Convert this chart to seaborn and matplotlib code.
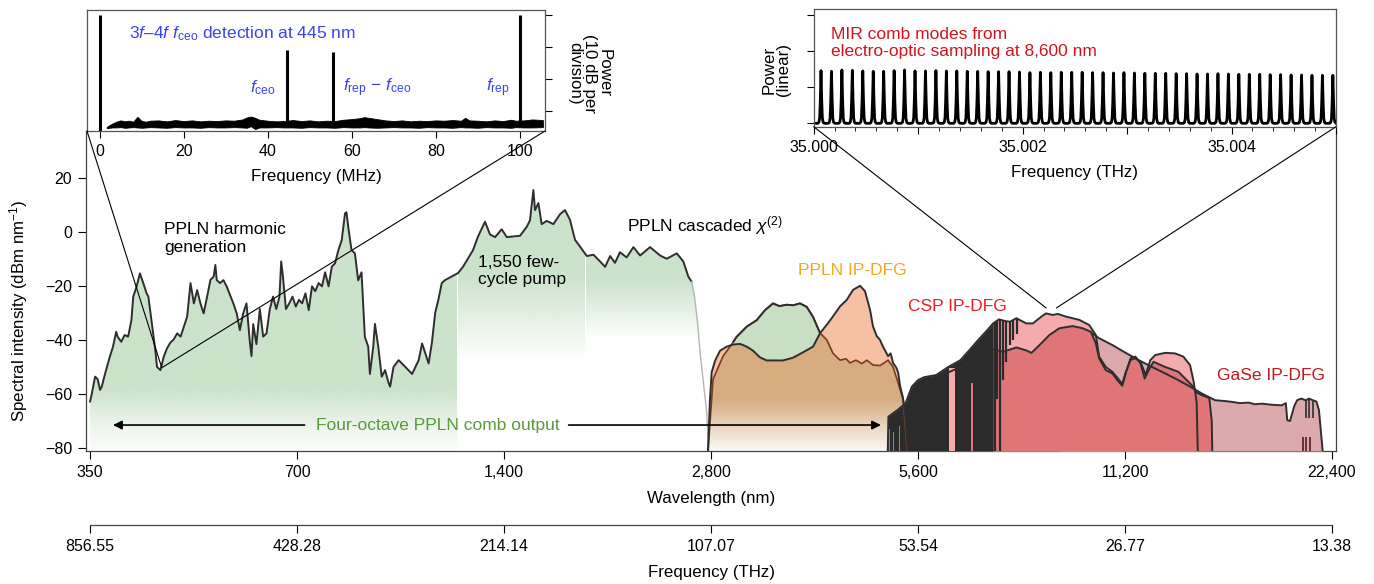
import numpy as np
import matplotlib
matplotlib.use("Agg")
import matplotlib.pyplot as plt
import seaborn as sns
from matplotlib.colors import to_rgb
from matplotlib.patches import ConnectionPatch
from matplotlib.ticker import FixedLocator, NullLocator

sns.set_theme(style="ticks", rc={"text.color": "black", "axes.labelcolor": "black",
                                 "xtick.color": "black", "ytick.color": "black"})
plt.rcParams['font.family'] = ['Liberation Sans', 'DejaVu Sans']
plt.rcParams['mathtext.fontset'] = 'custom'
plt.rcParams['mathtext.rm'] = 'Liberation Sans'
plt.rcParams['mathtext.it'] = 'Liberation Sans:italic'
plt.rcParams['mathtext.bf'] = 'Liberation Sans:bold'

# ---------------- data ----------------
# PPLN harmonic generation + cascaded chi(2) spectrum (nm, dBm/nm)
green_wl = [350, 352, 356, 359, 362, 364, 368, 374, 378, 382, 384, 388.5, 393, 397.6, 402, 404.5,
            409, 413.6, 418.3, 423, 425.5, 430.6, 435.6, 438, 443, 448, 453, 458, 463, 468.6, 474,
            479, 484.5, 490, 495.5, 501, 506.5, 512, 518, 523.8, 529.5, 532.5, 535, 541, 547, 553,
            565.5, 572, 578, 584.5, 591, 597.8, 601, 604.5, 611, 618, 625, 632, 639, 646, 653, 660,
            663.8, 667, 674.5, 682, 689.5, 697, 704.6, 712, 720, 728, 736, 744, 752.5, 761, 769,
            778, 786.5, 795, 804, 813, 822, 826, 831, 840, 849.7, 859, 868.7, 878.5, 888.4, 893.5,
            903.5, 908.6, 918.8, 929.5, 940, 950.7, 956, 967, 983.7, 1006, 1029, 1052, 1064,
            1075.6, 1087.5, 1099.6, 1111.8, 1124, 1136.5, 1149, 1174, 1200, 1220, 1262, 1283,
            1313.6, 1335.7, 1358.6, 1389, 1413, 1477, 1510.6, 1527, 1544.6, 1553, 1570.6, 1588,
            1615, 1651.6, 1689, 1717, 1746, 1775.6, 1805.6, 1847, 1888.6, 1931, 1964, 1997, 2030,
            2064, 2111, 2159, 2208, 2283, 2361, 2414, 2496, 2552, 2595, 2624]
green_db = [-62.9, -60, -53.6, -54.5, -58.5, -57.3, -52.6, -46.2, -42.5, -37, -38.9, -40.7, -38.2,
            -38.8, -32.7, -24, -20.3, -15.4, -19, -22.8, -24, -34, -44, -50, -51.2, -46.2, -43.1,
            -41, -39.9, -37.6, -38.8, -35.2, -31.4, -19, -26.5, -21.6, -26.5, -30.2, -24, -17.8,
            -16.6, -12.3, -17.9, -19, -17.9, -20.2, -26.5, -30.2, -36.4, -30.2, -26.5, -41, -46,
            -34.2, -41.6, -28.6, -38.8, -37.6, -28.6, -24, -28.6, -24, -11, -15.4, -28.6, -26.5,
            -24, -27.7, -25.2, -26.5, -22.8, -29, -20.2, -22, -19, -20.2, -15, -20.2, -12.9, -11.7,
            -6.8, -3.1, 6.8, 7.2, 1.8, -6.8, -8, -18, -15, -38.9, -42.5, -52.6, -42.5, -34.1, -42.5,
            -53.6, -51.2, -55.8, -57.3, -50, -47.5, -50, -52.6, -47.5, -41.3, -45, -48.7, -41, -30,
            -25, -19, -17.9, -16.6, -15.3, -13, -6.8, -1.8, 3.7, -1, -2, 0.9, -2, -1.5, 1.8, 4.2,
            15.4, 8, 10.6, 2.8, 4, 2.8, 6.5, 8, 4.4, -3, -5.5, -9, -8.5, -11, -13, -9, -11.5, -7.6,
            -9.5, -5.7, -8.8, -5.7, -8.8, -10, -8, -11, -16.6, -18.5]
# faded falling edge of the pump spectrum
tail_wl = [2624, 2650, 2675, 2700, 2730, 2760, 2777]
tail_db = [-18.5, -24, -33, -45, -56, -67, -81.1]

# PPLN IP-DFG spectra
dfg_orange_wl = [2772, 2790, 2806, 2838, 2886, 2951, 3017, 3086, 3156, 3223, 3299, 3374, 3446, 3563,
                 3685, 3811, 3940, 4034, 4126, 4213, 4313, 4411, 4505, 4612, 4689, 4768, 4816, 4876,
                 4930, 4980, 5065, 5110, 5151, 5200, 5239, 5273, 5320, 5360, 5416]
dfg_orange_db = [-81, -62, -52, -47.7, -44, -42.5, -41.7, -41.5, -42.5, -44, -46.5, -47.6, -47.6,
                 -47.6, -46.6, -44.6, -42.5, -37.5, -34.4, -31.3, -27.6, -25.2, -21.5, -20, -22,
                 -28.8, -35, -38.6, -40, -42.5, -46, -45, -48.6, -50, -52, -57, -61, -66, -81]
dfg_green_wl = [2772, 2819, 2915, 2984, 3052, 3156, 3263, 3355, 3446, 3520, 3608, 3685, 3772, 3858,
                3940, 4034, 4126, 4213, 4313, 4400, 4460, 4550, 4640, 4716, 4816, 4930, 5000, 5065,
                5150, 5255, 5326, 5400]
dfg_green_db = [-81, -54.6, -46, -42.5, -38.8, -35.1, -32.7, -29, -26.5, -27.5, -27.0, -27.2, -26.5,
                -27.8, -31.5, -37.5, -40, -45, -47.5, -47.0, -48.5, -47.5, -48.8, -47.5, -49.3,
                -49.5, -48.5, -47.5, -50, -57, -62, -81]

# CSP IP-DFG spectra (upper / lower) and GaSe IP-DFG
csp_up_wl = [5060, 5071, 5225, 5372, 5485, 5598, 5715, 5952, 6198, 6454, 6650, 6852, 7062, 7202,
             7345, 7480, 7619, 7785, 7920, 8047, 8228, 8463, 8600, 8793, 8942, 9192, 9610, 9933,
             10157, 10270, 10500, 10735, 10916, 11097, 11225, 11410, 11596, 11795, 12000, 12190,
             12394, 12810, 13245, 13617, 13923, 14080, 14160, 14235, 14290]
csp_up_db = [-81, -68.4, -66, -63.4, -57.3, -54.9, -53.8, -53, -50, -47.5, -43.8, -40, -36.4, -33.9,
             -32.4, -33, -33.3, -32, -33, -33.9, -33.9, -31.4, -30.2, -30.8, -30.4, -31.4, -32.6,
             -34.5, -38.2, -46.2, -50, -51.8, -54, -56.3, -52, -47.4, -46.8, -48.1, -53, -47.5,
             -45.6, -44.8, -45, -46.2, -49.3, -54.9, -59, -63.2, -81]
csp_lo_wl = [6200, 6818, 7202, 7450, 7785, 8047, 8187, 8414, 8694, 8991, 9397, 9716, 9990, 10157,
             10270, 10500, 10735, 10916, 11097, 11225, 11410, 11596, 11795, 11963, 12123, 12322,
             12806, 13391, 14000, 14235, 14500, 14850, 14973, 15000]
csp_lo_db = [-52, -47.5, -43.5, -44.4, -42.8, -43.9, -44.8, -41.9, -38.2, -35.7, -34.9, -35.7, -37,
             -41.3, -46.8, -51.2, -52.4, -54.9, -57, -52.4, -46.8, -46.2, -48.7, -54.3, -51.2,
             -48.1, -50, -51.8, -56.7, -59.5, -60.5, -61.5, -70, -81]
gase_wl = [8990, 10040, 10270, 10735, 11225, 11725, 12257, 12810, 13391, 14000, 14476, 15140, 15600,
           15990, 16450, 16928, 17300, 17730, 18300, 18925, 19190, 19280, 19460, 19740, 19930,
           20220, 20520, 20730, 21040, 21260, 21440, 21600, 21710]
gase_db = [-38.8, -37.6, -39.4, -41.9, -44.8, -47.5, -50, -52.4, -54.9, -57.6, -59.8, -62.3, -62.6,
           -62.9, -63.4, -63.2, -63.8, -63.6, -64.0, -64.2, -63.4, -69.7, -70, -64.5, -62.3, -61.7,
           -62.4, -61.7, -62.4, -62.8, -66, -75, -81.1]

# atmospheric absorption: end of the dense band, open windows, single lines
absorb_end_wl = 7202
window_lo = [5085, 5150, 5260, 6213, 6690]
window_hi = [5100, 5165, 5275, 6339, 6730]
window_top = [-73, -74, -72, -50.4, -56]
window_color = ['#e0684a', '#e0684a', '#e0684a', '#f5aaab', '#e07577']
abs_line_wl = [7240, 7300, 7380, 7450, 7530, 7620, 7700, 7800]
abs_line_low = [-81, -62, -81, -55, -48, -42, -40, -38]
gase_line_wl = [20520, 20730, 21040]
gase_line_low = [-69, -69, -69]
gase_tick_wl = [20300, 20550, 20800]

# axis ticks
wl_ticks = [350, 700, 1400, 2800, 5600, 11200, 22400]
wl_labels = ['350', '700', '1,400', '2,800', '5,600', '11,200', '22,400']
thz_labels = ['856.55', '428.28', '214.14', '107.07', '53.54', '26.77', '13.38']

# f_ceo beat-note inset (MHz, dB)
rf_spike_f = [0.0, 44.5, 55.6, 100.0]
rf_spike_db = [-0.2, -11.0, -11.5, -0.1]
rf_noise_f = [1.7, 3, 4, 5, 6, 7, 8, 9, 10, 11, 12, 14, 16, 18, 20, 22, 24, 26, 28, 30, 32, 34, 35,
              36, 37, 38, 40, 42, 44, 46, 48, 50, 52, 54, 56, 58, 60, 62, 63, 64, 66, 68, 70, 72,
              74, 76, 78, 80, 82, 84, 86, 87, 88, 90, 92, 94, 96, 98, 99, 101, 103, 105.5]
rf_noise_hi = [-34.8, -33.8, -33.2, -32.8, -33.1, -32.9, -33.2, -31.7, -33.0, -33.2, -32.9, -32.8,
               -33.1, -32.7, -33.0, -32.8, -33.1, -32.9, -33.0, -32.8, -32.9, -32.5, -31.9, -31.6,
               -32.0, -32.6, -32.9, -33.1, -33.0, -32.7, -33.0, -32.8, -33.1, -32.9, -33.0, -32.6,
               -32.4, -32.1, -31.8, -32.0, -32.4, -32.8, -33.0, -32.8, -33.1, -32.9, -33.0, -32.8,
               -32.9, -32.7, -32.9, -32.0, -32.8, -32.9, -33.1, -32.8, -33.0, -32.6, -32.9, -32.8,
               -32.5, -32.7]
rf_noise_lo = [-35.2, -35.0, -35.0, -34.9, -35.1, -35.0, -34.9, -35.0, -35.1, -35.0, -34.9, -35.0,
               -35.1, -34.9, -35.0, -35.0, -35.1, -34.9, -35.0, -35.0, -34.9, -35.0, -35.1, -34.6,
               -35.5, -35.0, -35.0, -34.9, -35.0, -35.0, -35.1, -34.9, -35.0, -35.0, -35.1, -34.9,
               -35.0, -35.0, -34.9, -35.0, -35.1, -35.0, -34.9, -35.0, -35.0, -35.1, -34.9, -35.0,
               -35.0, -35.1, -34.9, -35.0, -35.0, -35.1, -34.9, -35.0, -35.0, -35.1, -34.9, -35.0,
               -35.0, -34.9]

# MIR comb modes at 8,600 nm: offsets from 35.000 THz (MHz) and linear power
comb_offset_mhz = [70, 170, 270, 370, 470, 570, 670, 770, 870, 970, 1070, 1170, 1270, 1370, 1470,
                   1570, 1670, 1770, 1870, 1970, 2070, 2170, 2270, 2370, 2470, 2570, 2670, 2770,
                   2870, 2970, 3070, 3170, 3270, 3370, 3470, 3570, 3670, 3770, 3870, 3970, 4070,
                   4170, 4270, 4370, 4470, 4570, 4670, 4770, 4870, 4970]
comb_power = [1.455, 1.436, 1.473, 1.464, 1.446, 1.436, 1.436, 1.455, 1.473, 1.446, 1.446, 1.455,
              1.446, 1.446, 1.436, 1.436, 1.427, 1.427, 1.427, 1.418, 1.400, 1.409, 1.400, 1.409,
              1.409, 1.409, 1.400, 1.400, 1.390, 1.400, 1.390, 1.381, 1.381, 1.381, 1.372, 1.372,
              1.363, 1.363, 1.372, 1.363, 1.354, 1.354, 1.354, 1.344, 1.344, 1.335, 1.335, 1.326,
              1.326, 1.326]

# ---------------- styling constants ----------------
W, H = 1374, 584
BOTTOM, TOP = -81.1, 37.25
LINE = '#2e2e2e'
GREEN = '#cbe2cb'
PEACH = '#f7c0a2'
TAN = '#d6ac80'
MAUVE = '#dcaaac'
PINK = '#f5aaab'
RED = '#e07577'
FS_TEXT = 12.5   # annotations
FS_TICK = 11.5   # tick labels
FS_LABEL = 12.2  # axis labels


def gradient_fill(ax, x, y, color, segments, z):
    """Fill under a curve with vertical alpha gradients; segments = (x0, x1, levels, alphas)."""
    poly = ax.fill_between(x, BOTTOM, y, facecolor='none', edgecolor='none')
    path = poly.get_paths()[0]
    yy = np.linspace(BOTTOM, TOP, 400)
    for x0, x1, levels, alphas in segments:
        img = np.zeros((400, 1, 4))
        img[..., :3] = to_rgb(color)
        img[:, 0, 3] = np.interp(yy, levels, alphas)
        im = ax.imshow(img, extent=[x0, x1, BOTTOM, TOP], origin='lower', aspect='auto',
                       interpolation='bilinear', zorder=z)
        im.set_clip_path(path, transform=ax.transData)


fig = plt.figure(figsize=(W / 100, H / 100), dpi=100)

# ---------------- main spectrum axes ----------------
ax = fig.add_axes([86 / W, (H - 451) / H, 1250 / W, 320 / H])
ax.set_xscale('log', base=2)

# green PPLN spectrum with fading fill
g_wl = np.array(green_wl + tail_wl[1:])
g_db = np.array(green_db + tail_db[1:])
gradient_fill(ax, g_wl, g_db, GREEN, [
    (340, 1200, [BOTTOM, -70, -58, TOP], [0.06, 0.45, 1, 1]),
    (1200, 1840, [BOTTOM, -48, -16, TOP], [0, 0, 1, 1]),
    (1840, 2800, [BOTTOM, -40, -18, TOP], [0, 0, 1, 1]),
], z=1)
sns.lineplot(x=green_wl, y=green_db, ax=ax, color=LINE, linewidth=1.4, sort=False,
             estimator=None, errorbar=None, zorder=4)
ax.plot(tail_wl, tail_db, color='#b5b5b5', lw=1.0, zorder=4)

# PPLN IP-DFG: two spectra with overlap
dfg_grid = np.union1d(dfg_orange_wl, dfg_green_wl)
o_on = np.interp(dfg_grid, dfg_orange_wl, dfg_orange_db)
g_on = np.interp(dfg_grid, dfg_green_wl, dfg_green_db)
ax.fill_between(dfg_green_wl, BOTTOM, dfg_green_db, color='#c8dfc4', lw=0, zorder=2)
ax.fill_between(dfg_orange_wl, BOTTOM, dfg_orange_db, color=PEACH, lw=0, zorder=2.1)
ax.fill_between(dfg_grid, BOTTOM, np.minimum(o_on, g_on), color=TAN, lw=0, zorder=2.2)
gradient_fill(ax, dfg_grid, np.maximum(o_on, g_on), 'white',
              [(2700, 5500, [BOTTOM, -62, TOP], [0.92, 0, 0])], z=2.3)
ax.plot(dfg_green_wl, dfg_green_db, color='#7a3b1e', lw=1.2, zorder=4)
ax.plot(dfg_grid, np.where(g_on >= o_on, g_on, np.nan), color=LINE, lw=1.4, zorder=4.1)
sns.lineplot(x=dfg_orange_wl, y=dfg_orange_db, ax=ax, color=LINE, linewidth=1.4, sort=False,
             estimator=None, errorbar=None, zorder=4.1)

# CSP and GaSe IP-DFG
ax.fill_between(gase_wl, BOTTOM, gase_db, color=MAUVE, lw=0, zorder=3.0)
ax.fill_between(csp_up_wl, BOTTOM, csp_up_db, color=PINK, lw=0, zorder=3.1)
ax.fill_between(csp_lo_wl, BOTTOM, csp_lo_db, color=RED, lw=0, zorder=3.2)
up_wl = np.array(csp_up_wl)
up_db = np.array(csp_up_db)
band = up_wl <= absorb_end_wl
ax.fill_between(up_wl[band], BOTTOM, up_db[band], color='#2b2b2b', lw=0, zorder=3.3)
for lo, hi, top, c in zip(window_lo, window_hi, window_top, window_color):
    ax.fill_between([lo, hi], BOTTOM, top, color=c, lw=0, zorder=3.4)
ax.vlines(abs_line_wl, abs_line_low, np.interp(abs_line_wl, csp_up_wl, csp_up_db),
          color='#2b2b2b', lw=1.6, zorder=3.5)
ax.vlines(gase_line_wl, gase_line_low, np.interp(gase_line_wl, gase_wl, gase_db),
          color=LINE, lw=1.2, zorder=3.5)
ax.vlines(gase_tick_wl, BOTTOM, -76, color='#5a1a1a', lw=1.2, zorder=3.5)
gmask = np.array(gase_wl) >= 10040
ax.plot(np.array(gase_wl)[gmask], np.array(gase_db)[gmask], color=LINE, lw=1.4, zorder=4)
sns.lineplot(x=csp_up_wl, y=csp_up_db, ax=ax, color=LINE, linewidth=1.4, sort=False,
             estimator=None, errorbar=None, zorder=4.2)
sns.lineplot(x=csp_lo_wl, y=csp_lo_db, ax=ax, color=LINE, linewidth=1.4, sort=False,
             estimator=None, errorbar=None, zorder=4.2)

# annotations
txt = dict(fontsize=FS_TEXT, va='center', ha='left', zorder=6)
ax.text(449, -2.5, 'PPLN harmonic\ngeneration', color='black', linespacing=1.2, **txt)
ax.text(1283, -14.5, '1,550 few-\ncycle pump', color='black', linespacing=1.2, **txt)
ax.text(2114, 2.1, r'PPLN cascaded $\chi^{(2)}$', color='black', **txt)
ax.text(3747, -14.5, 'PPLN IP-DFG', color='#f5a623', **txt)
ax.text(5415, -27.7, 'CSP IP-DFG', color='#ec1c24', **txt)
ax.text(15225, -53, 'GaSe IP-DFG', color='#c8141e', **txt)
ax.text(1121, -71.5, 'Four-octave PPLN comb output', color='#5a9a3c', fontsize=FS_TEXT,
        ha='center', va='center', zorder=6)
arrow = dict(arrowstyle='-|>', color='black', lw=1.2, mutation_scale=13, shrinkA=0, shrinkB=0)
ax.annotate('', xy=(378, -71.5), xytext=(718, -71.5), arrowprops=arrow, zorder=6)
ax.annotate('', xy=(4946, -71.5), xytext=(1738, -71.5), arrowprops=arrow, zorder=6)

ax.set_xlim(345.3, 22700)
ax.set_ylim(BOTTOM, TOP)
ax.xaxis.set_major_locator(FixedLocator(wl_ticks))
ax.xaxis.set_minor_locator(NullLocator())
ax.set_xticklabels(wl_labels)
ax.set_yticks([20, 0, -20, -40, -60, -80])
ax.tick_params(axis='both', direction='out', length=5.5, width=0.8, labelsize=FS_TICK, pad=4.5)
ax.spines['top'].set_visible(False)
for s in ['left', 'bottom', 'right']:
    ax.spines[s].set_color('#444444')
    ax.spines[s].set_linewidth(0.9)
ax.set_xlabel('Wavelength (nm)', fontsize=FS_LABEL, labelpad=8)
ax.set_ylabel('Spectral intensity (dBm nm$^{-1}$)', fontsize=FS_LABEL)
ax.yaxis.set_label_coords(-0.045, 0.4375)

# ---------------- frequency axis ----------------
fax = fig.add_axes([86 / W, (H - 525) / H, 1250 / W, 0.0005])
fax.set_xscale('log', base=2)
fax.set_xlim(345.3, 22700)
fax.patch.set_alpha(0)
for s in ['left', 'right', 'top']:
    fax.spines[s].set_visible(False)
fax.spines['bottom'].set_bounds(350, 22400)
fax.spines['bottom'].set_color('#444444')
fax.spines['bottom'].set_linewidth(0.9)
fax.xaxis.set_major_locator(FixedLocator(wl_ticks))
fax.xaxis.set_minor_locator(NullLocator())
fax.set_xticklabels(thz_labels)
fax.set_yticks([])
fax.tick_params(axis='x', direction='out', length=5.5, width=0.8, labelsize=FS_TICK, pad=4.5)
fax.set_xlabel('Frequency (THz)', fontsize=FS_LABEL, labelpad=8)

# ---------------- f_ceo inset ----------------
axl = fig.add_axes([87 / W, (H - 131) / H, 458 / W, 121 / H])
axl.fill_between(rf_noise_f, rf_noise_lo, rf_noise_hi, color='black', lw=0.6)
axl.vlines(rf_spike_f[0], -36.1, rf_spike_db[0], color='black', lw=2.2)
axl.vlines(rf_spike_f[1:], -34, rf_spike_db[1:], color='black', lw=2.2)
axl.set_xlim(-3, 106)
axl.set_ylim(-36.1, 1.5)
axl.set_xticks([0, 20, 40, 60, 80, 100])
axl.yaxis.tick_right()
axl.set_yticks([0, -10, -20, -30])
axl.set_yticklabels([])
axl.tick_params(axis='both', direction='out', length=5, width=0.8, labelsize=FS_TICK, pad=4.5)
for s in axl.spines.values():
    s.set_color('#555555')
    s.set_linewidth(0.9)
axl.set_xlabel('Frequency (MHz)', fontsize=FS_LABEL, labelpad=7)
axl.text(1.097, 0.479, 'Power\n(10 dB per\ndivision)', rotation=270, transform=axl.transAxes,
         ha='center', va='center', multialignment='center', fontsize=FS_LABEL, linespacing=1.0)
blue = '#3a44ee'
axl.text(7.1, -5.7, r'3$f$–4$f$ $f_{\mathrm{ceo}}$ detection at 445 nm', color=blue,
         fontsize=FS_TEXT, va='center', ha='left')
axl.text(42, -22.5, r'$f_{\mathrm{ceo}}$', color=blue, fontsize=FS_TEXT, va='center', ha='right')
axl.text(57.9, -22.5, r'$f_{\mathrm{rep}}$ − $f_{\mathrm{ceo}}$', color=blue, fontsize=FS_TEXT,
         va='center', ha='left')
axl.text(91.9, -22.5, r'$f_{\mathrm{rep}}$', color=blue, fontsize=FS_TEXT, va='center', ha='left')

# ---------------- comb-mode inset ----------------
axr = fig.add_axes([813.7 / W, (H - 126.7) / H, 522.3 / W, 117.4 / H])
mode_shape_off = [-0.5, -0.3, -0.2, -0.13, -0.07, 0, 0.07, 0.13, 0.2, 0.3, 0.5]
mode_shape_val = [0, 0, 0.02, 0.1, 0.42, 1, 0.42, 0.1, 0.02, 0, 0]
comb_x, comb_y = [], []
for off, p in zip(comb_offset_mhz, comb_power):
    for so, sv in zip(mode_shape_off, mode_shape_val):
        comb_x.append(35.0 + (off + so * 100) * 1e-6)
        comb_y.append(p * sv)
axr.plot(comb_x, comb_y, color='black', lw=2.0, solid_joinstyle='round')
axr.set_xlim(35.0, 35.005)
axr.set_ylim(-0.094, 3.15)
axr.xaxis.set_major_locator(FixedLocator([35.000, 35.001, 35.002, 35.003, 35.004, 35.005]))
axr.set_xticklabels(['35.000', '', '35.002', '', '35.004', ''])
axr.xaxis.set_minor_locator(FixedLocator([35.0 + 0.0002 * k for k in range(26)]))
axr.set_yticks([0, 1, 2, 3])
axr.set_yticklabels([])
axr.tick_params(axis='both', which='major', direction='out', length=5, width=0.8,
                labelsize=FS_TICK, pad=4.5)
axr.tick_params(axis='x', which='minor', direction='out', length=3, width=0.6)
for s in axr.spines.values():
    s.set_color('#555555')
    s.set_linewidth(0.9)
axr.set_xlabel('Frequency (THz)', fontsize=FS_LABEL, labelpad=7)
axr.set_ylabel('Power\n(linear)', fontsize=FS_LABEL, linespacing=1.0)
axr.yaxis.set_label_coords(-0.043, 0.483)
axr.text(35.000165, 2.22, 'MIR comb modes from\nelectro-optic sampling at 8,600 nm',
         color='#d0141c', fontsize=FS_TEXT, va='center', ha='left', linespacing=1.2)

# ---------------- zoom connector lines ----------------
for xa, target in [(0, (445, -50.3)), (1, (445, -50.3))]:
    fig.add_artist(ConnectionPatch(xyA=(xa, 0), coordsA=axl.transAxes, xyB=target,
                                   coordsB=ax.transData, color='black', lw=0.8, zorder=7))
for xa, target in [(0, (8600, -28.2)), (1, (8900, -28.2))]:
    fig.add_artist(ConnectionPatch(xyA=(xa, 0), coordsA=axr.transAxes, xyB=target,
                                   coordsB=ax.transData, color='black', lw=0.8, zorder=7))

fig.savefig('out.png', dpi=100)
